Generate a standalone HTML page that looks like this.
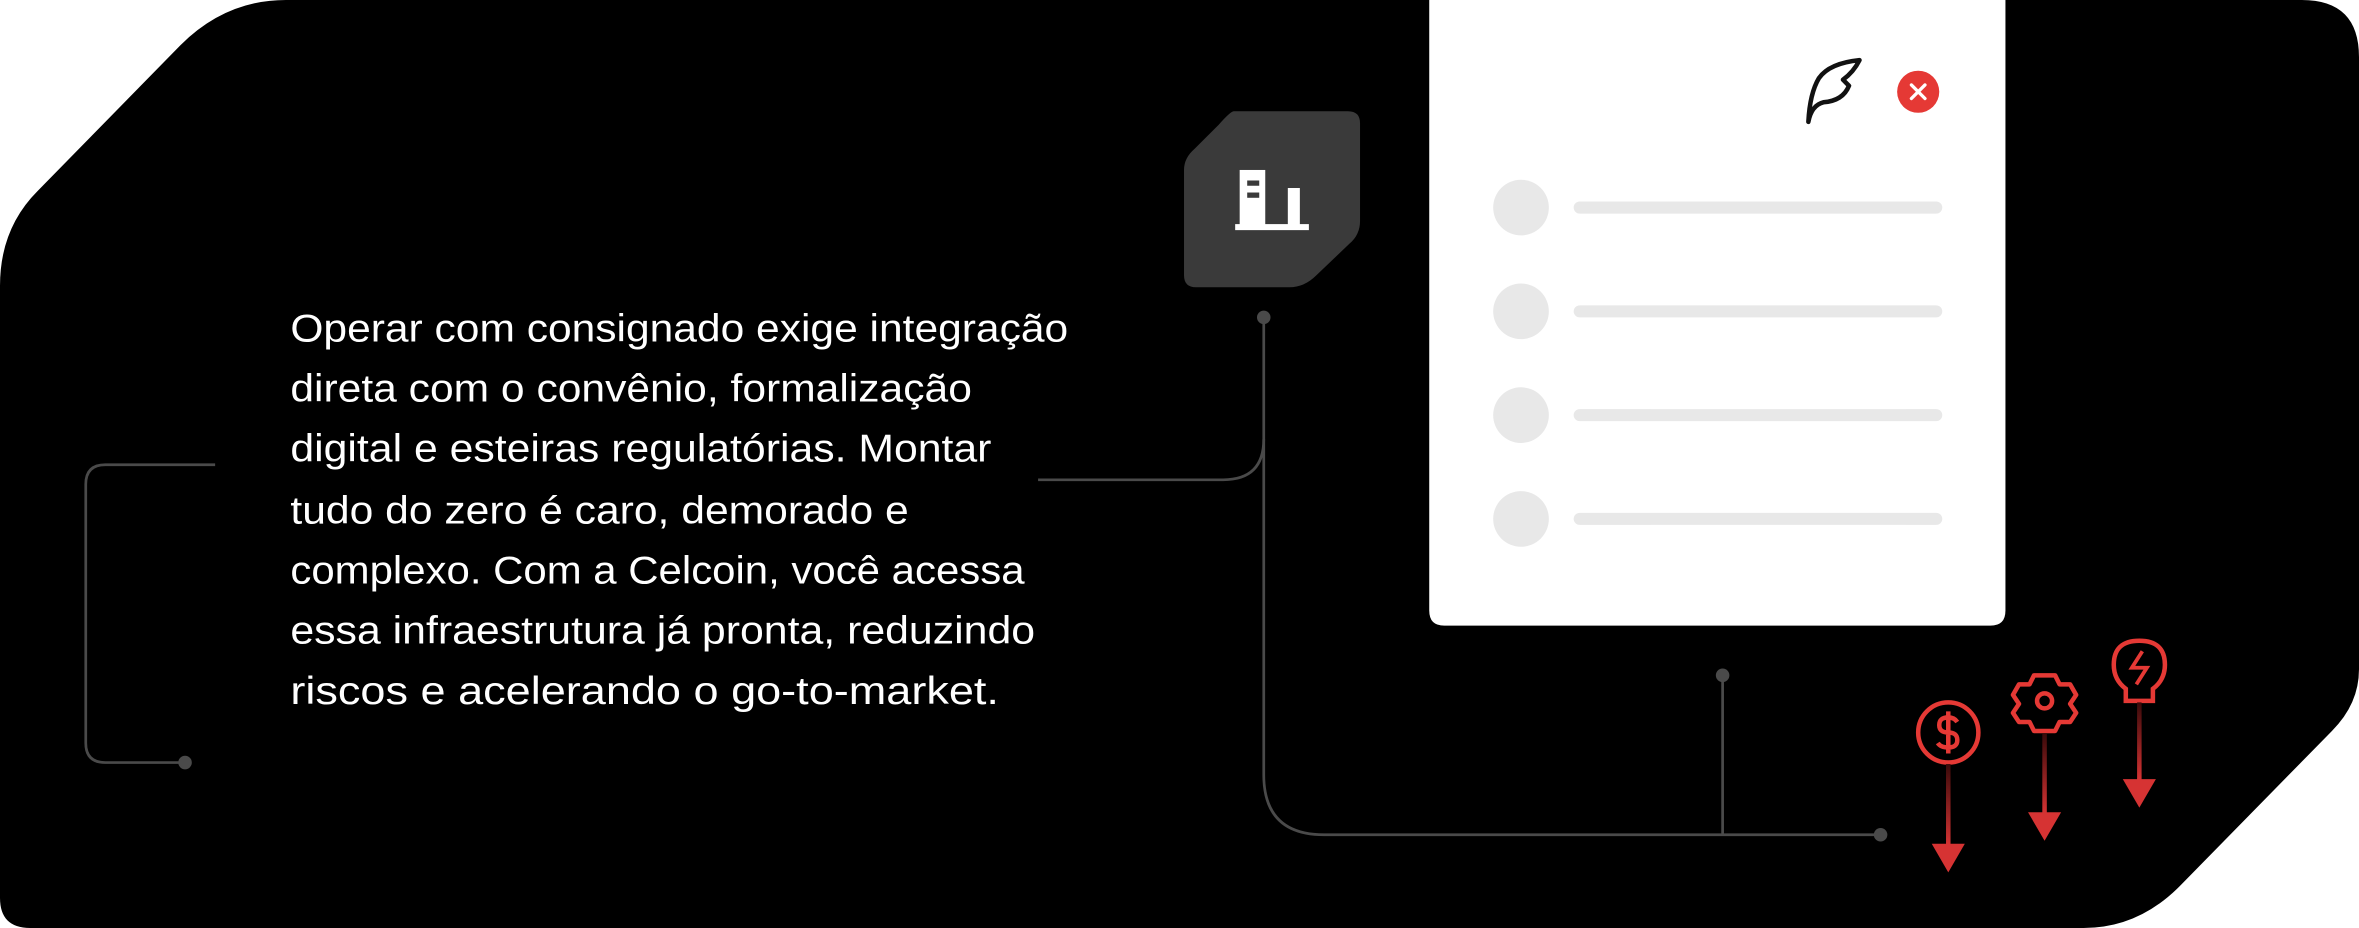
<!DOCTYPE html>
<html><head><meta charset="utf-8"><style>
html,body{margin:0;padding:0;background:#fff;}
svg{display:block;}
</style></head><body>
<svg width="2359" height="928" viewBox="0 0 1568 617" preserveAspectRatio="none" xmlns="http://www.w3.org/2000/svg">
<defs>
<linearGradient id="ag" x1="0" y1="0" x2="0" y2="1">
<stop offset="0" stop-color="#3a0a0a"/><stop offset="1" stop-color="#d63333"/>
</linearGradient>
</defs>
<path d="M190,0 L1530,0 Q1568,0 1568,38 L1568,445 Q1568,468 1550,486 L1450,588 Q1422,617 1385,617 L20,617 Q0,617 0,597 L0,190 Q0,152 25,127 L120,30 Q150,0 190,0 Z" fill="#000"/>
<path d="M950,0 L1333,0 L1333,406 Q1333,416 1323,416 L960,416 Q950,416 950,406 Z" fill="#fff"/>
<g fill="#e8e8e8">
<circle cx="1011" cy="138" r="18.5"/><rect x="1046" y="134" width="245" height="8" rx="4"/>
<circle cx="1011" cy="207" r="18.5"/><rect x="1046" y="203" width="245" height="8" rx="4"/>
<circle cx="1011" cy="276" r="18.5"/><rect x="1046" y="272" width="245" height="8" rx="4"/>
<circle cx="1011" cy="345" r="18.5"/><rect x="1046" y="341" width="245" height="8" rx="4"/>
</g>
<path d="M1202,81 Q1204,70 1212,68 Q1225,67 1229,57 L1225,53 Q1232,48 1236,40 Q1216,42 1209,52 Q1203,62 1202,81 Z" fill="none" stroke="#111" stroke-width="3" stroke-linejoin="round"/>
<circle cx="1275" cy="61" r="14" fill="#e53935"/>
<path d="M1270.5,56.5 L1279.5,65.5 M1279.5,56.5 L1270.5,65.5" stroke="#fff" stroke-width="2.2" stroke-linecap="round"/>
<path d="M820,74 L896,74 Q904,74 904,82 L904,147 Q904,156 897,162 L875,183 Q867,191 857,191 L795,191 Q787,191 787,183 L787,113 Q787,105 794,99 L810,83 Q818,74 820,74 Z" fill="#3a3a3a"/>
<g fill="#fff">
<rect x="824" y="113" width="17" height="37"/>
<rect x="856" y="125" width="8" height="25"/>
<rect x="821" y="149" width="49" height="4"/>
</g>
<rect x="829" y="120" width="8" height="3.5" fill="#3a3a3a"/>
<rect x="829" y="128" width="8" height="3.5" fill="#3a3a3a"/>
<g fill="none" stroke="#4a4a4a" stroke-width="1.8">
<path d="M840,211 L840,515 Q840,555 880,555 L1250,555"/>
<path d="M690,319 L813,319 Q840,319 840,292"/>
<path d="M1145,449 L1145,555"/>
<path d="M143,309 L70,309 Q57,309 57,322 L57,494 Q57,507 70,507 L123,507"/>
</g>
<g fill="#4a4a4a">
<circle cx="840" cy="211" r="4.5"/><circle cx="1250" cy="555" r="4.5"/>
<circle cx="1145" cy="449" r="4.5"/><circle cx="123" cy="507" r="4.5"/>
</g>
<g fill="#fff" font-family="Liberation Sans, sans-serif" font-size="26">
<text x="193" y="227" textLength="517" lengthAdjust="spacingAndGlyphs">Operar com consignado exige integração</text>
<text x="193" y="267" textLength="453" lengthAdjust="spacingAndGlyphs">direta com o convênio, formalização</text>
<text x="193" y="307" textLength="466" lengthAdjust="spacingAndGlyphs">digital e esteiras regulatórias. Montar</text>
<text x="193" y="348" textLength="411" lengthAdjust="spacingAndGlyphs">tudo do zero é caro, demorado e</text>
<text x="193" y="388" textLength="488" lengthAdjust="spacingAndGlyphs">complexo. Com a Celcoin, você acessa</text>
<text x="193" y="428" textLength="495" lengthAdjust="spacingAndGlyphs">essa infraestrutura já pronta, reduzindo</text>
<text x="193" y="468" textLength="471" lengthAdjust="spacingAndGlyphs">riscos e acelerando o go-to-market.</text>
</g>
<g stroke="#e53935" fill="none" stroke-width="3">
<circle cx="1295" cy="487" r="20"/>
<path d="M1301,480 Q1299,477 1295,477 Q1289,477 1289,482 Q1289,487 1295,487 Q1301,487 1301,492 Q1301,497 1295,497 Q1290,497 1288,494 M1295,473 L1295,501"/>
<circle cx="1359" cy="466" r="5"/>
<path d="M1352,449 L1366,449 L1369,455 L1376,455 L1380,462 L1376,468 L1380,474 L1376,480 L1369,480 L1366,486 L1352,486 L1349,480 L1342,480 L1338,474 L1342,468 L1338,462 L1342,455 L1349,455 Z" stroke-linejoin="round"/>
<path d="M1413,458 Q1405,452 1405,442 Q1405,426 1422,426 Q1439,426 1439,442 Q1439,452 1431,458 L1431,466 L1413,466 Z"/>
<path d="M1424,433 L1417,444 L1427,444 L1420,455" stroke-width="2.5"/>
</g>
<g fill="url(#ag)">
<rect x="1293.5" y="508" width="3" height="54"/>
<rect x="1357.5" y="488" width="3" height="53"/>
<rect x="1420.5" y="467" width="3" height="52"/>
</g>
<g fill="#d63333">
<path d="M1284,561 L1306,561 L1295,580 Z"/>
<path d="M1348,540 L1370,540 L1359,559 Z"/>
<path d="M1411,518 L1433,518 L1422,537 Z"/>
</g>
</svg>
</body></html>
